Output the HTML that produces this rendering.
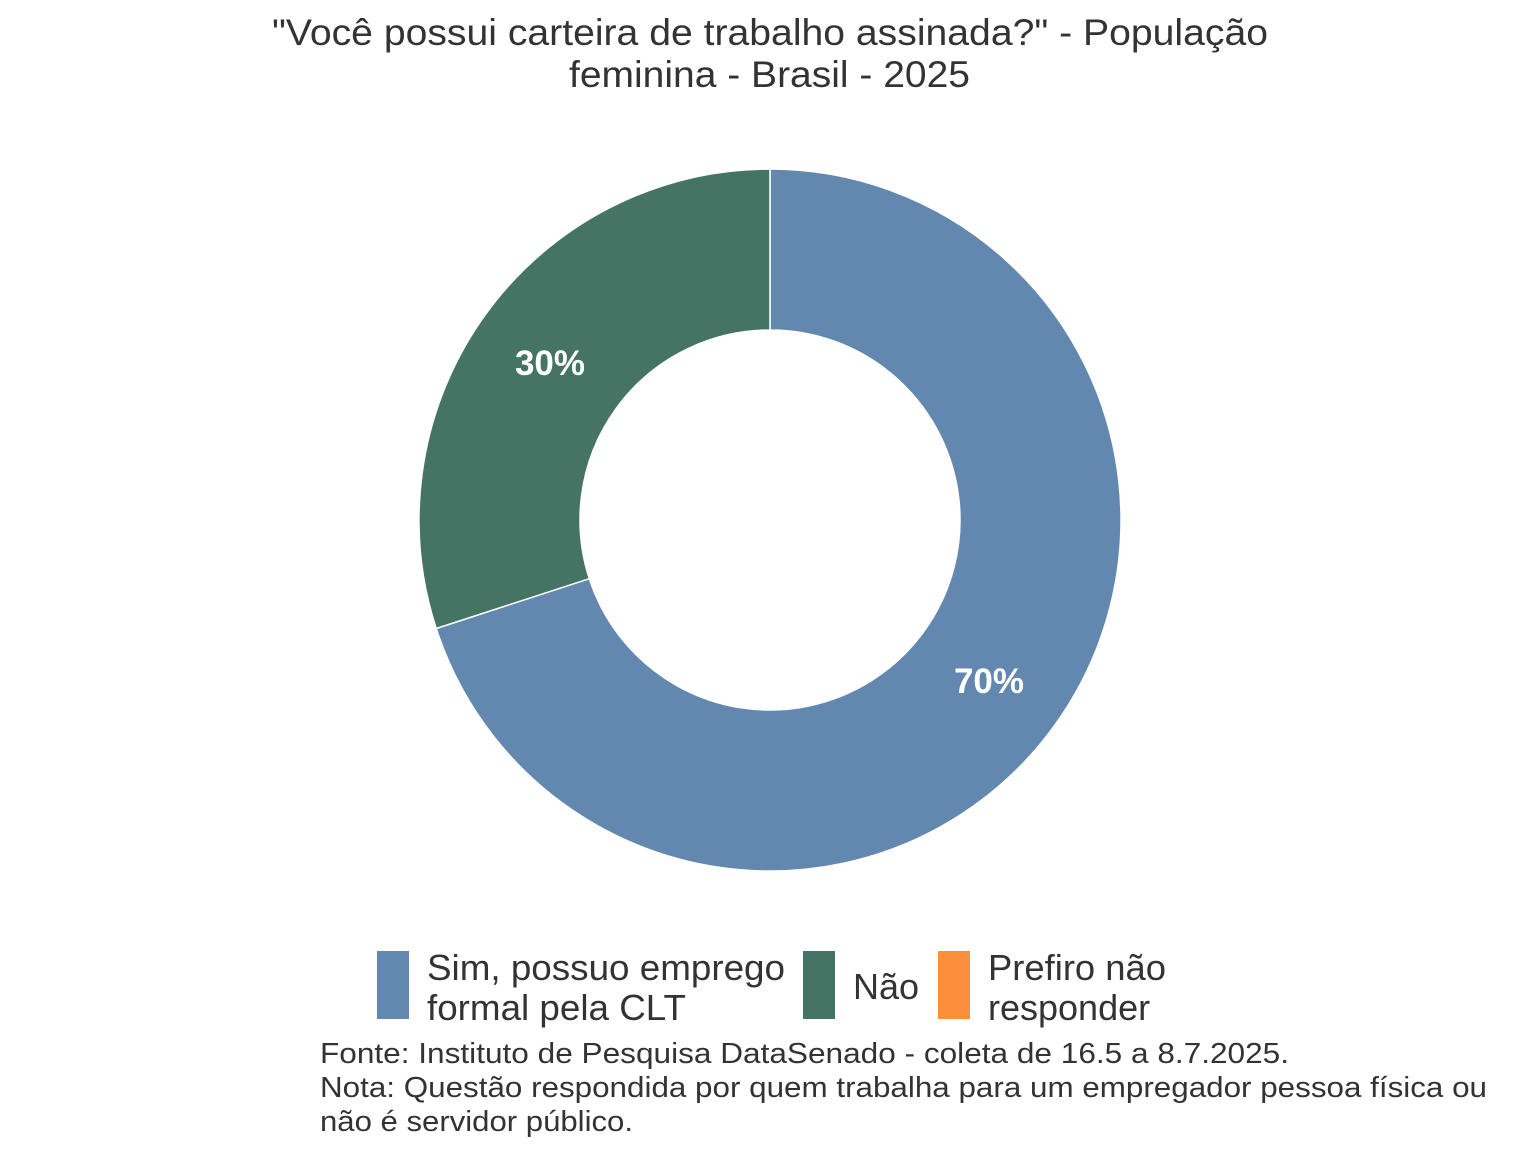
<!DOCTYPE html>
<html><head><meta charset="utf-8"><style>
body{margin:0;background:#fff;}
</style></head><body>
<svg width="1536" height="1152" xmlns="http://www.w3.org/2000/svg" style="display:block;font-family:'Liberation Sans',sans-serif">
<rect width="1536" height="1152" fill="#fff"/>
<text x="272" y="45" font-size="37" fill="#333" textLength="996" lengthAdjust="spacingAndGlyphs">"Você possui carteira de trabalho assinada?" - População</text>
<text x="569" y="87" font-size="37" fill="#333" textLength="401" lengthAdjust="spacingAndGlyphs">feminina - Brasil - 2025</text>
<path d="M770,169 A351,351 0 1 1 436.2,628.5 L589.3,578.7 A190,190 0 1 0 770,330 Z" fill="#6388B0" stroke="#fff" stroke-width="1.5"/>
<path d="M436.2,628.5 A351,351 0 0 1 770,169 L770,330 A190,190 0 0 0 589.3,578.7 Z" fill="#437464" stroke="#fff" stroke-width="1.5"/>
<text x="550" y="375" font-size="35" font-weight="bold" fill="#fff" text-anchor="middle">30%</text>
<text x="989" y="693" font-size="35" font-weight="bold" fill="#fff" text-anchor="middle">70%</text>
<rect x="377" y="951" width="32" height="68" fill="#6388B0"/>
<text x="427" y="980" font-size="36" fill="#333" textLength="358" lengthAdjust="spacingAndGlyphs">Sim, possuo emprego</text>
<text x="427" y="1020" font-size="36" fill="#333" textLength="259" lengthAdjust="spacingAndGlyphs">formal pela CLT</text>
<rect x="803" y="951" width="32" height="68" fill="#437464"/>
<text x="853" y="999" font-size="36" fill="#333">Não</text>
<rect x="938" y="951" width="32" height="68" fill="#FB8F3B"/>
<text x="988" y="980" font-size="36" fill="#333" textLength="178" lengthAdjust="spacingAndGlyphs">Prefiro não</text>
<text x="988" y="1020" font-size="36" fill="#333">responder</text>
<text x="320" y="1063" font-size="29" fill="#333" textLength="969" lengthAdjust="spacingAndGlyphs">Fonte: Instituto de Pesquisa DataSenado - coleta de 16.5 a 8.7.2025.</text>
<text x="320" y="1097" font-size="29" fill="#333" textLength="1167" lengthAdjust="spacingAndGlyphs">Nota: Questão respondida por quem trabalha para um empregador pessoa física ou</text>
<text x="320" y="1131" font-size="29" fill="#333" textLength="313" lengthAdjust="spacingAndGlyphs">não é servidor público.</text>
</svg>
</body></html>
